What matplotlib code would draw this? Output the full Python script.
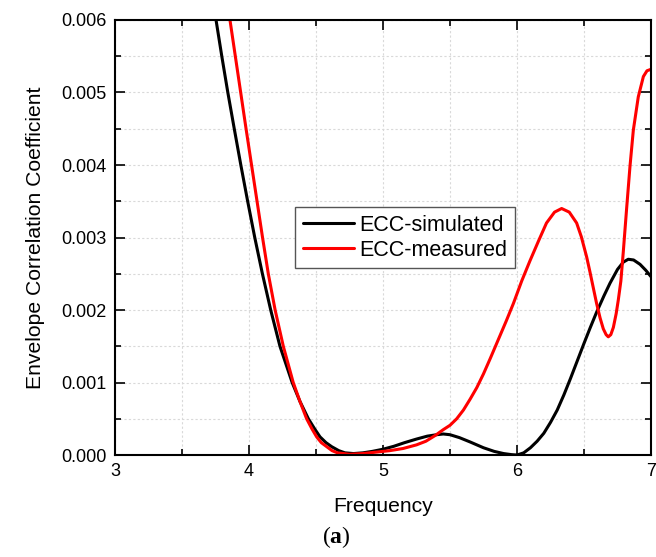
import matplotlib
matplotlib.use("Agg")
import matplotlib.pyplot as plt
from matplotlib.ticker import MultipleLocator, FormatStrFormatter

plt.rcParams['font.family'] = ['Liberation Sans', 'DejaVu Sans']
plt.rcParams['mathtext.fontset'] = 'custom'
plt.rcParams['mathtext.bf'] = 'Liberation Serif:bold'
plt.rcParams['mathtext.rm'] = 'Liberation Serif'

# ECC-simulated
sim_freq = [3.72, 3.754, 3.797, 3.842, 3.890, 3.939, 3.990, 4.043, 4.100, 4.162, 4.231,
            4.322, 4.38, 4.443, 4.49, 4.53, 4.575, 4.617, 4.67, 4.716, 4.78, 4.85,
            4.92, 5.00, 5.08, 5.16, 5.25, 5.33, 5.40, 5.45, 5.50, 5.57, 5.65,
            5.75, 5.83, 5.90, 5.96, 6.00, 6.05, 6.10, 6.15, 6.20, 6.25, 6.30,
            6.35, 6.40, 6.45, 6.50, 6.545, 6.594, 6.65, 6.694, 6.75, 6.793, 6.83,
            6.87, 6.918, 6.96, 7.00]
sim_ecc = [0.0064, 0.0060, 0.0055, 0.0050, 0.0045, 0.0040, 0.0035, 0.0030, 0.0025, 0.0020, 0.0015,
           0.0010, 0.00074, 0.0005, 0.00036, 0.00025, 0.00017, 0.000115, 0.00006, 0.00003, 0.00002, 0.00003,
           0.00005, 0.00008, 0.00012, 0.00017, 0.00022, 0.00026, 0.00028, 0.00029, 0.00028, 0.00024, 0.00018,
           0.00010, 0.00005, 0.00002, 0.000005, 0.0, 0.00003, 0.00010, 0.00019, 0.00030, 0.00045, 0.00062,
           0.00083, 0.00106, 0.00130, 0.00154, 0.00175, 0.00197, 0.00220, 0.00237, 0.00256, 0.00266, 0.00270,
           0.00269, 0.00263, 0.00255, 0.00246]

# ECC-measured
meas_freq = [3.83, 3.858, 3.898, 3.938, 3.978, 4.019, 4.060, 4.101, 4.144, 4.195, 4.256,
             4.33, 4.38, 4.43, 4.47, 4.505, 4.54, 4.58, 4.62, 4.66, 4.75, 4.85,
             4.95, 5.05, 5.15, 5.25, 5.32, 5.39, 5.45, 5.50, 5.55, 5.60, 5.65,
             5.70, 5.75, 5.80, 5.86, 5.92, 5.973, 6.035, 6.097, 6.16, 6.22, 6.28,
             6.333, 6.39, 6.445, 6.48, 6.52, 6.545, 6.57, 6.594, 6.62, 6.644, 6.665,
             6.681, 6.70, 6.719, 6.74, 6.756, 6.775, 6.793, 6.818, 6.843, 6.868, 6.905,
             6.943, 6.97, 7.00]
meas_ecc = [0.0064, 0.0060, 0.0055, 0.0050, 0.0045, 0.0040, 0.0035, 0.0030, 0.0025, 0.0020, 0.0015,
            0.0010, 0.00074, 0.0005, 0.00036, 0.00025, 0.00017, 0.000115, 0.00006, 0.00003, 0.00001, 0.00002,
            0.00004, 0.00006, 0.00009, 0.00014, 0.00019, 0.00027, 0.00035, 0.00041, 0.00050, 0.00062, 0.00077,
            0.00093, 0.00112, 0.00133, 0.00159, 0.00185, 0.00209, 0.00240, 0.00268, 0.00295, 0.00320, 0.00335,
            0.00340, 0.00335, 0.00320, 0.00301, 0.00273, 0.00252, 0.00230, 0.00209, 0.00189, 0.00174, 0.00166,
            0.00163, 0.00166, 0.00176, 0.00195, 0.00214, 0.00240, 0.00280, 0.00340, 0.00398, 0.00448, 0.00494,
            0.00522, 0.00530, 0.00532]

labels = ["ECC-simulated", "ECC-measured"]

fig = plt.figure(figsize=(6.56, 5.57), dpi=100)
ax = fig.add_axes([0.1753, 0.1831, 0.8171, 0.7810])

ax.plot(sim_freq, sim_ecc, color='black', lw=2.2, label=labels[0],
        solid_joinstyle='round', solid_capstyle='round')
ax.plot(meas_freq, meas_ecc, color='#ff0000', lw=2.2, label=labels[1],
        solid_joinstyle='round', solid_capstyle='round')

ax.set_xlim(3, 7)
ax.set_ylim(0, 0.006)
ax.xaxis.set_major_locator(MultipleLocator(1))
ax.xaxis.set_minor_locator(MultipleLocator(0.5))
ax.yaxis.set_major_locator(MultipleLocator(0.001))
ax.yaxis.set_minor_locator(MultipleLocator(0.0005))
ax.yaxis.set_major_formatter(FormatStrFormatter('%.3f'))

ax.grid(True, which='both', color='#d9d9d9', linestyle=(0, (2, 2)), linewidth=0.8)
ax.set_axisbelow(True)

ax.tick_params(which='both', direction='in', top=True, right=True, labelsize=13, width=1.2)
ax.tick_params(which='major', length=7, pad=6)
ax.tick_params(which='minor', length=4)
for s in ax.spines.values():
    s.set_linewidth(1.5)

ax.set_xlabel("Frequency", fontsize=15.2, labelpad=12)
ax.set_ylabel("Envelope Correlation Coefficient", fontsize=15.2, labelpad=12)

leg = ax.legend(loc='upper left', bbox_to_anchor=(0.336, 0.570), borderaxespad=0,
                fontsize=15.5, handlelength=2.37, handletextpad=0.25, labelspacing=0.2,
                borderpad=0.35, fancybox=False, framealpha=1, edgecolor='#555555')
leg.get_frame().set_linewidth(1.0)

fig.text(0.513, 0.035, r"($\mathbf{a}$)", fontsize=17, ha='center', va='center',
         family='Liberation Serif')

fig.savefig("out.png", dpi=100)
